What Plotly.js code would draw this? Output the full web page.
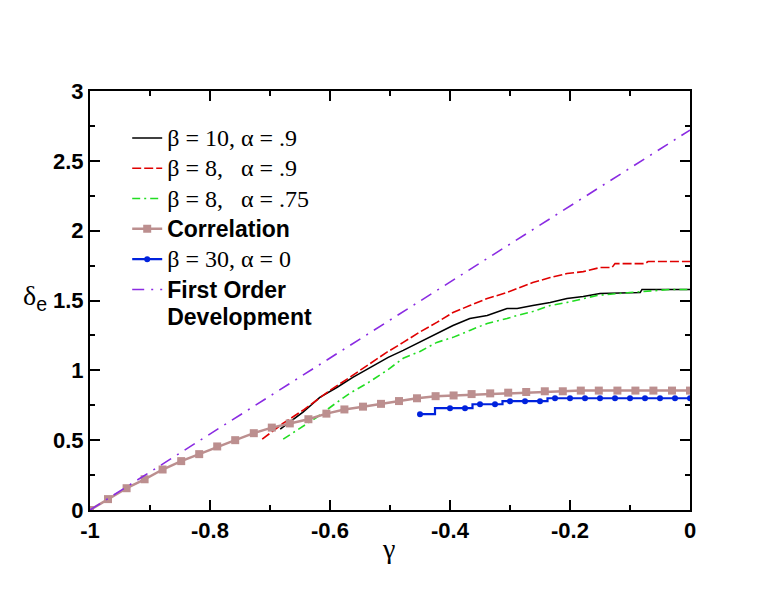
<!DOCTYPE html>
<html>
<head>
<meta charset="utf-8">
<script src="https://cdn.plot.ly/plotly-3.0.1.min.js"></script>
<style>html,body{margin:0;padding:0;background:#fff;}#chart{width:776px;height:600px;}</style>
</head>
<body>
<div id="chart"></div>
<script>
// beta = 10, alpha = .9 (black solid)
var gammaB10 = [-0.683,-0.645,-0.617,-0.588,-0.562,-0.533,-0.503,-0.478,-0.450,-0.422,-0.395,-0.367,-0.338,-0.305,-0.288,-0.262,-0.233,-0.205,-0.178,-0.150,-0.083,-0.080,0];
var deltaB10 = [0.579,0.700,0.807,0.879,0.950,1.021,1.093,1.143,1.205,1.264,1.321,1.371,1.393,1.443,1.443,1.464,1.486,1.514,1.529,1.550,1.557,1.579,1.579];
// beta = 8, alpha = .9 (red dashed)
var gammaB8a9 = [-0.713,-0.678,-0.645,-0.622,-0.600,-0.567,-0.538,-0.505,-0.478,-0.450,-0.422,-0.395,-0.367,-0.338,-0.305,-0.288,-0.262,-0.233,-0.205,-0.178,-0.150,-0.130,-0.125,-0.075,-0.070,0];
var deltaB8a9 = [0.507,0.621,0.714,0.786,0.857,0.950,1.036,1.130,1.200,1.275,1.343,1.414,1.464,1.514,1.557,1.586,1.629,1.664,1.693,1.707,1.736,1.736,1.764,1.764,1.779,1.779];
// beta = 8, alpha = .75 (green dash-dot)
var gammaB8a75 = [-0.678,-0.650,-0.622,-0.595,-0.567,-0.538,-0.505,-0.478,-0.450,-0.422,-0.395,-0.367,-0.338,-0.305,-0.288,-0.262,-0.233,-0.205,-0.178,-0.155,-0.100,-0.033,0];
var deltaB8a75 = [0.507,0.586,0.664,0.750,0.836,0.907,1.000,1.086,1.135,1.200,1.236,1.286,1.336,1.371,1.393,1.421,1.464,1.486,1.514,1.536,1.557,1.579,1.579];
// Correlation (rosy brown squares)
var gammaCorr = [-1,-0.970,-0.939,-0.909,-0.879,-0.848,-0.818,-0.788,-0.758,-0.727,-0.697,-0.667,-0.636,-0.606,-0.576,-0.545,-0.515,-0.485,-0.455,-0.424,-0.394,-0.364,-0.333,-0.303,-0.273,-0.242,-0.212,-0.182,-0.152,-0.121,-0.091,-0.061,-0.030,0];
var deltaCorr = [0,0.078,0.156,0.220,0.290,0.350,0.400,0.455,0.500,0.550,0.590,0.620,0.650,0.690,0.720,0.740,0.760,0.780,0.800,0.815,0.820,0.830,0.835,0.840,0.845,0.850,0.850,0.855,0.855,0.855,0.855,0.855,0.855,0.855];
// beta = 30, alpha = 0 (blue circles)
var gammaB30 = [-0.45,-0.4,-0.375,-0.35,-0.325,-0.3,-0.275,-0.25,-0.225,-0.2,-0.175,-0.15,-0.125,-0.1,-0.075,-0.05,-0.025,0];
var deltaB30 = [0.686,0.729,0.729,0.757,0.757,0.779,0.779,0.779,0.800,0.800,0.800,0.800,0.800,0.800,0.800,0.800,0.800,0.800];
// First order development (purple dash-dot)
var gammaFO = [-1,-0.5,0];
var deltaFO = [0,1.36,2.72];

var serif = "Liberation Serif";
var sans = "Liberation Sans";
function ser(t){ return "<span style='font-family:" + serif + ";font-size:24px'>" + t + "</span>"; }
function bold(t){ return "<b><span style='font-family:" + sans + ";font-size:23px'>" + t + "</span></b>"; }

var traces = [
  {x: gammaB10, y: deltaB10, mode: 'lines', name: ser('β = 10, α = .9'),
   line: {color: '#000000', width: 1.6}},
  {x: gammaB8a9, y: deltaB8a9, mode: 'lines', name: ser('β = 8,&nbsp;&nbsp; α = .9'),
   line: {color: '#e00000', width: 1.6, dash: '9px,3px'}},
  {x: gammaB8a75, y: deltaB8a75, mode: 'lines', name: ser('β = 8,&nbsp;&nbsp; α = .75'),
   line: {color: '#22dd22', width: 1.6, dash: '8px,4px,2px,4px'}},
  {x: gammaCorr, y: deltaCorr, mode: 'lines+markers', name: bold('Correlation'),
   line: {color: '#bc8f8f', width: 2.5},
   marker: {symbol: 'square', size: 8, color: '#bc8f8f'}},
  {x: gammaB30, y: deltaB30, mode: 'lines+markers', name: ser('β = 30, α = 0'),
   line: {color: '#0022dd', width: 2.2, shape: 'hvh'},
   marker: {symbol: 'circle', size: 6, color: '#0022dd'}},
  {x: gammaFO, y: deltaFO, mode: 'lines', name: bold('First Order') + '<br>' + bold('Development'),
   line: {color: '#8a2be2', width: 1.6, dash: '12px,7px,2px,7px'}}
];

var axisCommon = {
  showgrid: false, zeroline: false,
  showline: true, linecolor: '#000', linewidth: 2, mirror: 'allticks',
  ticks: 'inside', ticklen: 10, tickwidth: 2, tickcolor: '#000',
  tickfont: {family: sans, size: 22, color: '#000', weight: 'bold'}
};

var layout = {
  width: 776, height: 600,
  margin: {l: 90, r: 86, t: 91, b: 90},
  paper_bgcolor: '#fff', plot_bgcolor: '#fff',
  showlegend: true,
  legend: {x: 0.062, y: 0.936, xanchor: 'left', yanchor: 'top',
           bgcolor: 'rgba(255,255,255,0)', borderwidth: 0,
           font: {family: serif, size: 21, color: '#000'},
           valign: 'top', traceorder: 'normal', tracegroupgap: 0},
  xaxis: Object.assign({}, axisCommon, {
    range: [-1, 0], tickvals: [-1,-0.8,-0.6,-0.4,-0.2,0], ticktext: ['-1','-0.8','-0.6','-0.4','-0.2','0'],
    minor: {tickvals: [-0.9,-0.7,-0.5,-0.3,-0.1], ticks: 'inside', ticklen: 5, tickwidth: 2, tickcolor: '#000'}
  }),
  yaxis: Object.assign({}, axisCommon, {
    range: [0, 3], tickvals: [0,0.5,1,1.5,2,2.5,3], ticktext: ['0','0.5','1','1.5','2','2.5','3'],
    minor: {tickvals: [0.25,0.75,1.25,1.75,2.25,2.75], ticks: 'inside', ticklen: 5, tickwidth: 2, tickcolor: '#000'}
  }),
  annotations: [
    {text: 'γ', xref: 'paper', yref: 'paper', x: 0.498, y: 0, yshift: -38,
     showarrow: false, xanchor: 'center', yanchor: 'middle',
     font: {family: serif, size: 28, color: '#000'}},
    {text: "δ<sub><span style='font-family:" + sans + "'>e</span></sub>", xref: 'paper', yref: 'paper',
     x: -0.092, y: 0.508, showarrow: false, xanchor: 'center', yanchor: 'middle',
     font: {family: serif, size: 28, color: '#000'}}
  ]
};

Plotly.newPlot('chart', traces, layout, {staticPlot: true, displayModeBar: false});
</script>
</body>
</html>
